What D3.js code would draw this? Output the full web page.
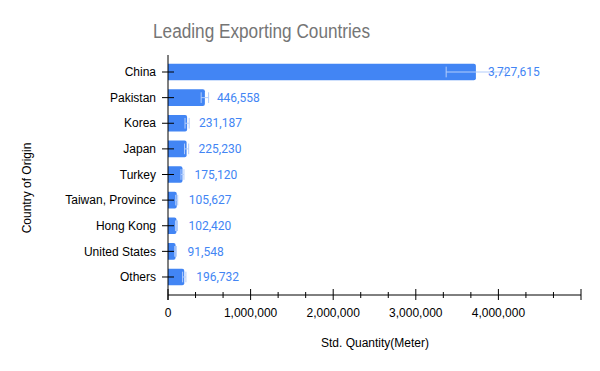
<!DOCTYPE html>
<html>
<head>
<meta charset="utf-8">
<script src="https://cdn.jsdelivr.net/npm/d3@7"></script>
<style>
  body { margin: 0; background: #fff; }
  svg { display: block; }
</style>
</head>
<body>
<svg id="chart" width="600" height="371"></svg>
<script>
"use strict";
var countries = [ "China", "Pakistan", "Korea", "Japan", "Turkey", "Taiwan, Province", "Hong Kong", "United States", "Others" ];
var quantities = [ 3727615, 446558, 231187, 225230, 175120, 105627, 102420, 91548, 196732 ];
var errors = [ 360000, 45000, 25000, 25000, 18000, 12000, 12000, 10000, 20000 ];
var xMajorTicks = [ 0, 1000000, 2000000, 3000000, 4000000, 5000000 ];
var xTickLabels = [ "0", "1,000,000", "2,000,000", "3,000,000", "4,000,000", "" ];

var svg = d3.select( "#chart" );
var blue = "#4285f4";

var x = d3.scaleLinear().domain( [ 0, 5000000 ] ).range( [ 168, 581 ] );
var y = d3.scaleBand().domain( countries ).range( [ 59.2, 289.8 ] )
          .paddingInner( 0.35 ).paddingOuter( 0.175 );

// title (the original font is a bit narrower than Arial)
svg.append( "text" )
   .attr( "x", 261.5 ).attr( "y", 38 )
   .attr( "text-anchor", "middle" )
   .attr( "textLength", 217 ).attr( "lengthAdjust", "spacingAndGlyphs" )
   .style( "font", "20px 'Liberation Sans', Arial, sans-serif" )
   .style( "fill", "#757575" )
   .text( "Leading Exporting Countries" );

// bars
var rows = countries.map( function( c, i ) {
  return {name: c, value: quantities[i], err: errors[i]};
} );

svg.append( "g" ).selectAll( "path" )
   .data( rows ).enter().append( "path" )
   .attr( "fill", blue )
   .attr( "d", function( d ) {
     var x0 = x( 0 ), x1 = x( d.value ), y0 = y( d.name ), h = y.bandwidth(), r = 2;
     return "M" + x0 + "," + y0 + "H" + ( x1 - r ) + "Q" + x1 + "," + y0 + " " + x1 + "," + ( y0 + r ) +
            "V" + ( y0 + h - r ) + "Q" + x1 + "," + ( y0 + h ) + " " + ( x1 - r ) + "," + ( y0 + h ) +
            "H" + x0 + "Z";
   } );

// error bars
var eb = svg.append( "g" ).selectAll( "g" ).data( rows ).enter().append( "g" )
            .attr( "stroke", "#b3cdfb" ).attr( "stroke-width", 1 );
eb.append( "line" )
  .attr( "x1", function( d ) { return x( d.value - d.err ); } )
  .attr( "x2", function( d ) { return x( d.value + d.err ); } )
  .attr( "y1", function( d ) { return y( d.name ) + y.bandwidth() / 2; } )
  .attr( "y2", function( d ) { return y( d.name ) + y.bandwidth() / 2; } );
[ -1, 1 ].forEach( function( s ) {
  eb.append( "line" )
    .attr( "x1", function( d ) { return x( d.value + s * d.err ); } )
    .attr( "x2", function( d ) { return x( d.value + s * d.err ); } )
    .attr( "y1", function( d ) { return y( d.name ) + 3; } )
    .attr( "y2", function( d ) { return y( d.name ) + y.bandwidth() - 3; } );
} );

// value labels
svg.append( "g" ).selectAll( "text" )
   .data( rows ).enter().append( "text" )
   .attr( "x", function( d ) { return x( d.value ) + 12; } )
   .attr( "y", function( d ) { return y( d.name ) + y.bandwidth() / 2; } )
   .attr( "dy", "0.35em" )
   .style( "font", "12px Roboto, sans-serif" )
   .style( "fill", blue )
   .text( function( d ) { return d3.format( "," )( d.value ); } );

// y axis
var yAxis = svg.append( "g" );
yAxis.append( "line" )
     .attr( "x1", 168 ).attr( "x2", 168 ).attr( "y1", 55 ).attr( "y2", 300 )
     .attr( "stroke", "#000" );
var yt = yAxis.selectAll( "g.tick" ).data( countries ).enter().append( "g" )
              .attr( "transform", function( d ) { return "translate(0," + ( y( d ) + y.bandwidth() / 2 ) + ")"; } );
yt.append( "line" ).attr( "x1", 162 ).attr( "x2", 174 ).attr( "stroke", "#000" );
yt.append( "text" )
  .attr( "x", 156 ).attr( "dy", "0.35em" )
  .attr( "text-anchor", "end" )
  .style( "font", "12px 'Liberation Sans', Arial, sans-serif" )
  .text( function( d ) { return d; } );

// x axis
var xAxis = svg.append( "g" ).attr( "transform", "translate(0,295)" );
xAxis.append( "line" ).attr( "x1", 168 ).attr( "x2", 581 ).attr( "stroke", "#000" );
var minor = d3.range( 0, 16 ).map( function( i ) { return i * 5000000 / 15; } )
              .filter( function( v, i ) { return i % 3 !== 0; } );
xAxis.selectAll( "line.minor" ).data( minor ).enter().append( "line" )
     .attr( "x1", function( d ) { return x( d ); } ).attr( "x2", function( d ) { return x( d ); } )
     .attr( "y1", -3 ).attr( "y2", 3 ).attr( "stroke", "#000" );
xAxis.selectAll( "line.major" ).data( xMajorTicks ).enter().append( "line" )
     .attr( "x1", function( d ) { return x( d ); } ).attr( "x2", function( d ) { return x( d ); } )
     .attr( "y1", -6 ).attr( "y2", 5 ).attr( "stroke", "#000" );
xAxis.selectAll( "text" ).data( xMajorTicks ).enter().append( "text" )
     .attr( "x", function( d ) { return x( d ); } ).attr( "y", 22 )
     .attr( "text-anchor", "middle" )
     .style( "font", "12px 'Liberation Sans', Arial, sans-serif" )
     .text( function( d, i ) { return xTickLabels[i]; } );

// axis titles
svg.append( "text" )
   .attr( "x", 375 ).attr( "y", 347 )
   .attr( "text-anchor", "middle" )
   .style( "font", "12px 'Liberation Sans', Arial, sans-serif" )
   .text( "Std. Quantity(Meter)" );
svg.append( "text" )
   .attr( "transform", "translate(31,188) rotate(-90)" )
   .attr( "text-anchor", "middle" )
   .style( "font", "12px 'Liberation Sans', Arial, sans-serif" )
   .text( "Country of Origin" );
</script>
</body>
</html>
